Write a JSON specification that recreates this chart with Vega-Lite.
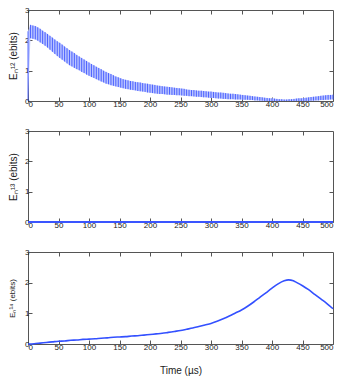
{
  "$schema": "https://vega.github.io/schema/vega-lite/v6.json",
  "padding": {"left": 8, "top": 5, "right": 0, "bottom": 2},
  "background": "white",
  "spacing": 30,
  "bounds": "flush",
  "config": {
    "view": {"stroke": "#555555", "strokeWidth": 1},
    "axis": {
      "labelFont": "Liberation Sans",
      "labelFontSize": 8,
      "labelColor": "#222222",
      "titleFont": "Liberation Sans",
      "titleFontSize": 10,
      "titleFontWeight": "normal",
      "titleColor": "#222222",
      "tickColor": "#555555",
      "tickSize": -4,
      "labelPadding": 3,
      "domain": false,
      "grid": false
    }
  },
  "vconcat": [
    {
      "width": 305,
      "height": 91,
      "data": {"values": [
        {"t":0,"lo":0,"hi":2.3},{"t":4,"lo":2.07,"hi":2.51},{"t":8,"lo":2.05,"hi":2.49},{"t":12,"lo":2.03,"hi":2.47},
        {"t":16,"lo":1.99,"hi":2.43},{"t":20,"lo":1.93,"hi":2.38},{"t":24,"lo":1.88,"hi":2.32},{"t":28,"lo":1.82,"hi":2.27},
        {"t":32,"lo":1.76,"hi":2.21},{"t":36,"lo":1.69,"hi":2.15},{"t":40,"lo":1.62,"hi":2.09},{"t":44,"lo":1.55,"hi":2.03},
        {"t":48,"lo":1.48,"hi":1.97},{"t":52,"lo":1.42,"hi":1.92},{"t":56,"lo":1.36,"hi":1.86},{"t":60,"lo":1.30,"hi":1.80},
        {"t":64,"lo":1.24,"hi":1.74},{"t":68,"lo":1.18,"hi":1.68},{"t":72,"lo":1.14,"hi":1.63},{"t":76,"lo":1.09,"hi":1.58},
        {"t":80,"lo":1.05,"hi":1.52},{"t":84,"lo":1.01,"hi":1.47},{"t":88,"lo":0.96,"hi":1.42},{"t":92,"lo":0.92,"hi":1.37},
        {"t":96,"lo":0.87,"hi":1.32},{"t":100,"lo":0.83,"hi":1.27},{"t":104,"lo":0.79,"hi":1.22},{"t":108,"lo":0.76,"hi":1.18},
        {"t":112,"lo":0.72,"hi":1.13},{"t":116,"lo":0.68,"hi":1.09},{"t":120,"lo":0.64,"hi":1.05},{"t":124,"lo":0.61,"hi":1.00},
        {"t":128,"lo":0.57,"hi":0.96},{"t":132,"lo":0.55,"hi":0.92},{"t":136,"lo":0.52,"hi":0.89},{"t":140,"lo":0.50,"hi":0.85},
        {"t":144,"lo":0.48,"hi":0.81},{"t":148,"lo":0.46,"hi":0.78},{"t":152,"lo":0.44,"hi":0.75},{"t":156,"lo":0.42,"hi":0.72},
        {"t":160,"lo":0.40,"hi":0.70},{"t":164,"lo":0.39,"hi":0.68},{"t":168,"lo":0.37,"hi":0.66},{"t":172,"lo":0.36,"hi":0.65},
        {"t":176,"lo":0.35,"hi":0.63},{"t":180,"lo":0.33,"hi":0.62},{"t":184,"lo":0.32,"hi":0.61},{"t":188,"lo":0.31,"hi":0.59},
        {"t":192,"lo":0.30,"hi":0.58},{"t":196,"lo":0.28,"hi":0.57},{"t":200,"lo":0.27,"hi":0.55},{"t":204,"lo":0.26,"hi":0.54},
        {"t":208,"lo":0.25,"hi":0.53},{"t":212,"lo":0.24,"hi":0.51},{"t":216,"lo":0.23,"hi":0.50},{"t":220,"lo":0.23,"hi":0.49},
        {"t":224,"lo":0.22,"hi":0.48},{"t":228,"lo":0.21,"hi":0.47},{"t":232,"lo":0.21,"hi":0.46},{"t":236,"lo":0.20,"hi":0.45},
        {"t":240,"lo":0.20,"hi":0.44},{"t":244,"lo":0.19,"hi":0.43},{"t":248,"lo":0.19,"hi":0.42},{"t":252,"lo":0.18,"hi":0.41},
        {"t":256,"lo":0.17,"hi":0.40},{"t":260,"lo":0.17,"hi":0.38},{"t":264,"lo":0.16,"hi":0.37},{"t":268,"lo":0.16,"hi":0.36},
        {"t":272,"lo":0.15,"hi":0.36},{"t":276,"lo":0.14,"hi":0.35},{"t":280,"lo":0.14,"hi":0.34},{"t":284,"lo":0.13,"hi":0.34},
        {"t":288,"lo":0.12,"hi":0.33},{"t":292,"lo":0.12,"hi":0.32},{"t":296,"lo":0.11,"hi":0.31},{"t":300,"lo":0.10,"hi":0.31},
        {"t":304,"lo":0.10,"hi":0.30},{"t":308,"lo":0.09,"hi":0.29},{"t":312,"lo":0.08,"hi":0.28},{"t":316,"lo":0.08,"hi":0.28},
        {"t":320,"lo":0.07,"hi":0.27},{"t":324,"lo":0.07,"hi":0.26},{"t":328,"lo":0.06,"hi":0.25},{"t":332,"lo":0.06,"hi":0.24},
        {"t":336,"lo":0.06,"hi":0.24},{"t":340,"lo":0.05,"hi":0.23},{"t":344,"lo":0.05,"hi":0.22},{"t":348,"lo":0.05,"hi":0.21},
        {"t":352,"lo":0.04,"hi":0.20},{"t":356,"lo":0.04,"hi":0.19},{"t":360,"lo":0.04,"hi":0.18},{"t":364,"lo":0.03,"hi":0.17},
        {"t":368,"lo":0.03,"hi":0.16},{"t":372,"lo":0.02,"hi":0.15},{"t":376,"lo":0.02,"hi":0.14},{"t":380,"lo":0.01,"hi":0.13},
        {"t":384,"lo":0.01,"hi":0.12},{"t":388,"lo":0.0,"hi":0.11},{"t":392,"lo":0.0,"hi":0.10},{"t":396,"lo":0.0,"hi":0.09},
        {"t":400,"lo":0.0,"hi":0.09},{"t":404,"lo":0.0,"hi":0.08},{"t":408,"lo":0.0,"hi":0.07},{"t":412,"lo":0.0,"hi":0.06},
        {"t":416,"lo":0.0,"hi":0.06},{"t":420,"lo":0.0,"hi":0.05},{"t":424,"lo":0.0,"hi":0.05},{"t":428,"lo":0.0,"hi":0.06},
        {"t":432,"lo":0.0,"hi":0.06},{"t":436,"lo":0.0,"hi":0.07},{"t":440,"lo":0.0,"hi":0.08},{"t":444,"lo":0.0,"hi":0.09},
        {"t":448,"lo":0.0,"hi":0.09},{"t":452,"lo":0.0,"hi":0.10},{"t":456,"lo":0.0,"hi":0.11},{"t":460,"lo":0.0,"hi":0.12},
        {"t":464,"lo":0.01,"hi":0.13},{"t":468,"lo":0.01,"hi":0.14},{"t":472,"lo":0.02,"hi":0.15},{"t":476,"lo":0.02,"hi":0.16},
        {"t":480,"lo":0.03,"hi":0.17},{"t":484,"lo":0.03,"hi":0.18},{"t":488,"lo":0.04,"hi":0.19},{"t":492,"lo":0.04,"hi":0.20},
        {"t":496,"lo":0.05,"hi":0.20},{"t":500,"lo":0.05,"hi":0.21}
      ]},
      "layer": [
        {
          "mark": {"type": "area", "color": "#bcc6ff", "opacity": 1},
          "encoding": {
            "x": {"field": "t", "type": "quantitative", "scale": {"domain": [0, 500], "nice": false}, "axis": {"values": [0,50,100,150,200,250,300,350,400,450,500], "title": null}},
            "y": {"field": "lo", "type": "quantitative", "scale": {"domain": [0, 3], "nice": false}, "axis": {"values": [0,1,2,3], "title": "Eₙ¹² (ebits)", "titlePadding": 6}},
            "y2": {"field": "hi"}
          }
        },
        {
          "mark": {"type": "rule", "color": "#3049ff", "strokeWidth": 1, "opacity": 0.8},
          "encoding": {
            "x": {"field": "t", "type": "quantitative", "axis": null},
            "y": {"field": "lo", "type": "quantitative", "axis": null},
            "y2": {"field": "hi"}
          }
        },
        {
          "mark": {"type": "point", "opacity": 0},
          "encoding": {
            "x": {"field": "t", "type": "quantitative", "axis": {"orient": "top", "values": [50,100,150,200,250,300,350,400,450], "labels": false, "title": null}},
            "y": {"field": "lo", "type": "quantitative", "axis": {"orient": "right", "values": [1,2], "labels": false, "title": null}}
          }
        }
      ],
      "resolve": {"axis": {"x": "independent", "y": "independent"}}
    },
    {
      "width": 305,
      "height": 91,
      "data": {"values": [{"t": 0, "v": 0}, {"t": 500, "v": 0}]},
      "layer": [
        {
          "mark": {"type": "line", "color": "#3a55ff", "strokeWidth": 2},
          "encoding": {
            "x": {"field": "t", "type": "quantitative", "scale": {"domain": [0, 500], "nice": false}, "axis": {"values": [0,50,100,150,200,250,300,350,400,450,500], "title": null}},
            "y": {"field": "v", "type": "quantitative", "scale": {"domain": [0, 3], "nice": false, "zero": true}, "axis": {"values": [0,1,2,3], "title": "Eₙ¹³ (ebits)", "titlePadding": 6}}
          }
        },
        {
          "mark": {"type": "point", "opacity": 0},
          "encoding": {
            "x": {"field": "t", "type": "quantitative", "axis": {"orient": "top", "values": [50,100,150,200,250,300,350,400,450], "labels": false, "title": null}},
            "y": {"field": "v", "type": "quantitative", "axis": {"orient": "right", "values": [1,2], "labels": false, "title": null}}
          }
        }
      ],
      "resolve": {"axis": {"x": "independent", "y": "independent"}}
    },
    {
      "width": 305,
      "height": 92,
      "data": {"values": [
        {"t":0,"v":0},{"t":10,"v":0.01},{"t":20,"v":0.03},{"t":30,"v":0.05},{"t":40,"v":0.07},{"t":50,"v":0.09},
        {"t":60,"v":0.10},{"t":70,"v":0.12},{"t":80,"v":0.13},{"t":90,"v":0.15},{"t":100,"v":0.16},{"t":110,"v":0.17},
        {"t":120,"v":0.19},{"t":130,"v":0.20},{"t":140,"v":0.22},{"t":150,"v":0.23},{"t":160,"v":0.24},{"t":170,"v":0.26},
        {"t":180,"v":0.27},{"t":190,"v":0.29},{"t":200,"v":0.31},{"t":210,"v":0.33},{"t":220,"v":0.35},{"t":230,"v":0.38},
        {"t":240,"v":0.41},{"t":250,"v":0.44},{"t":260,"v":0.48},{"t":270,"v":0.52},{"t":280,"v":0.57},{"t":290,"v":0.62},
        {"t":300,"v":0.67},{"t":310,"v":0.74},{"t":320,"v":0.82},{"t":330,"v":0.91},{"t":340,"v":1.01},{"t":350,"v":1.11},
        {"t":360,"v":1.23},{"t":370,"v":1.37},{"t":380,"v":1.52},{"t":390,"v":1.67},{"t":400,"v":1.82},{"t":410,"v":1.96},
        {"t":420,"v":2.06},{"t":427,"v":2.09},{"t":435,"v":2.06},{"t":440,"v":2.01},{"t":450,"v":1.90},{"t":460,"v":1.77},
        {"t":470,"v":1.62},{"t":480,"v":1.47},{"t":490,"v":1.32},{"t":500,"v":1.15}
      ]},
      "layer": [
        {
          "mark": {"type": "line", "color": "#3350ff", "strokeWidth": 1.6, "interpolate": "monotone"},
          "encoding": {
            "x": {"field": "t", "type": "quantitative", "scale": {"domain": [0, 500], "nice": false}, "axis": {"values": [0,50,100,150,200,250,300,350,400,450,500], "title": "Time (µs)", "titlePadding": 14}},
            "y": {"field": "v", "type": "quantitative", "scale": {"domain": [0, 3], "nice": false}, "axis": {"values": [0,1,2,3], "title": "Eₙ¹⁴ (ebits)", "titleFontSize": 8, "titlePadding": 8}}
          }
        },
        {
          "mark": {"type": "point", "opacity": 0},
          "encoding": {
            "x": {"field": "t", "type": "quantitative", "axis": {"orient": "top", "values": [50,100,150,200,250,300,350,400,450], "labels": false, "title": null}},
            "y": {"field": "v", "type": "quantitative", "axis": {"orient": "right", "values": [1,2], "labels": false, "title": null}}
          }
        }
      ],
      "resolve": {"axis": {"x": "independent", "y": "independent"}}
    }
  ]
}
